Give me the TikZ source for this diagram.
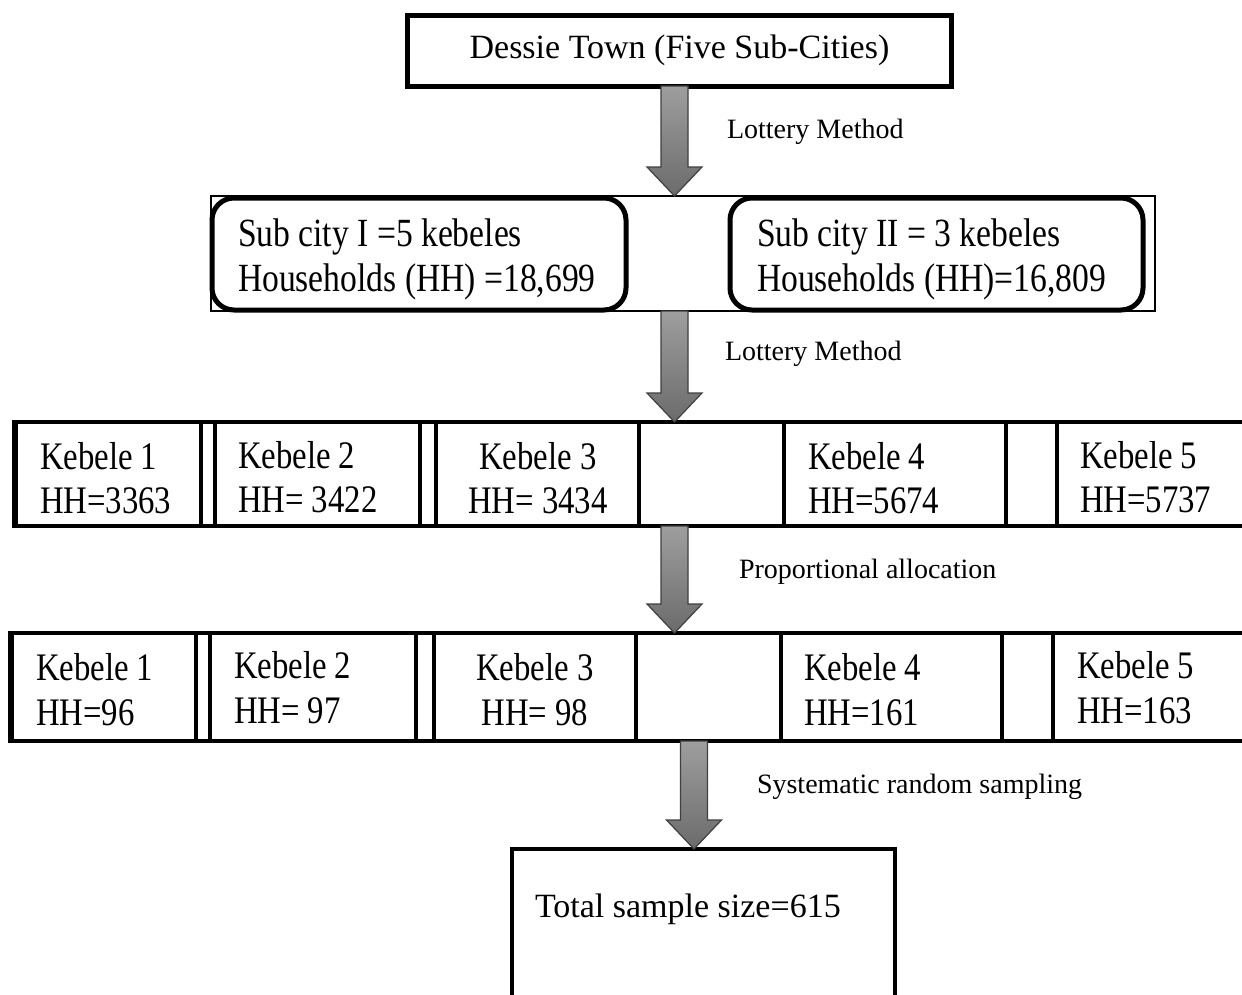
\documentclass[tikz,border=0pt]{standalone}
\usepackage{fontspec}
\setmainfont{Liberation Serif}
\newfontfamily\condfont[FakeStretch=0.84]{Liberation Serif}
\usetikzlibrary{calc,fit}
\tikzset{
  frame/.style={draw=black, line width=#1, inner sep=0pt, outer sep=0pt, fill=white},
  thinframe/.style={draw=black, line width=1.3pt, inner sep=0pt, outer sep=0pt},
  barrow/.style={draw=black!75, line width=1.2pt, top color=black!38, bottom color=black!58},
  bigtxt/.style={inner sep=0pt, outer sep=0pt, font=\fontsize{34}{40}\selectfont},
  lbltxt/.style={inner sep=0pt, outer sep=0pt, anchor=base west, font=\fontsize{28}{34}\selectfont},
  subtxt/.style={inner sep=0pt, outer sep=0pt, anchor=base west, font=\condfont\fontsize{40}{48}\selectfont},
  kbtxt/.style={inner sep=0pt, outer sep=0pt, anchor=base west, font=\condfont\fontsize{39}{46}\selectfont},
  kbctxt/.style={inner sep=0pt, outer sep=0pt, anchor=base, font=\condfont\fontsize{39}{46}\selectfont},
}
\newcommand{\blockarrow}[3]{%
  \path[barrow] let \p1=(#1 |- #2), \p2=(#1 |- #3) in
    (\x1-13.5pt,\y1) -- (\x1+13.5pt,\y1) -- (\x1+13.5pt,\y2+29pt) -- (\x1+27.5pt,\y2+29pt)
    -- (\x1,\y2) -- (\x1-27.5pt,\y2+29pt) -- (\x1-13.5pt,\y2+29pt) -- cycle;}
\begin{document}
\begin{tikzpicture}[x=1pt,y=-1pt]
\useasboundingbox (0,0) rectangle (1242,994);
\fill[white] (0,0) rectangle (1242,994);

% boxes
\node[frame=5pt, fit={(407,15)(951,86)}] (top) {};
\node[thinframe, fit={(211,196)(1155,311)}] (subouter) {};
\node[frame=5pt, rounded corners=22pt, fit={(212,198)(626,310)}] (sub1) {};
\node[frame=5pt, rounded corners=22pt, fit={(730,198)(1143,310)}] (sub2) {};

\node[frame=4pt, fit={(14,422)(1250,526)}] (row1) {};
\node[frame=4.5pt, fit={(16,422)(201,526)}] (r1k1) {};
\node[frame=4.5pt, fit={(215,422)(420,526)}] (r1k2) {};
\node[frame=4.5pt, fit={(436,422)(639,526)}] (r1k3) {};
\node[frame=4.5pt, fit={(784,422)(1006,526)}] (r1k4) {};
\node[frame=4.5pt, fit={(1057,422)(1250,526)}] (r1k5) {};

\node[frame=4pt, fit={(10,633)(1250,741)}] (row2) {};
\node[frame=4.5pt, fit={(12,633)(196,741)}] (r2k1) {};
\node[frame=4.5pt, fit={(210,633)(416,741)}] (r2k2) {};
\node[frame=4.5pt, fit={(434,633)(636,741)}] (r2k3) {};
\node[frame=4.5pt, fit={(781,633)(1002,741)}] (r2k4) {};
\node[frame=4.5pt, fit={(1053,633)(1250,741)}] (r2k5) {};

\node[frame=4.5pt, fit={(512,849)(895,1005)}] (total) {};

% arrows
\coordinate (ax) at (674.5,0);
\coordinate (bx) at (694,0);
\blockarrow{ax}{top.south}{subouter.north}
\blockarrow{ax}{subouter.south}{row1.north}
\blockarrow{ax}{row1.south}{row2.north}
\blockarrow{bx}{row2.south}{total.north}

% texts
\node[bigtxt, anchor=base] (toptxt) at (679.5,58) {Dessie Town (Five Sub-Cities)};
\node[lbltxt] (l1) at (727,138) {Lottery Method};
\node[lbltxt] (l2) at (725,360) {Lottery Method};
\node[lbltxt] (l3) at (739,578) {Proportional allocation};
\node[lbltxt] (l4) at (757,793) {Systematic random sampling};

\node[subtxt] (s1a) at (238,246) {Sub city I =5 kebeles};
\node[subtxt] (s1b) at (238,291) {Households (HH) =18,699};
\node[subtxt] (s2a) at (757,246) {Sub city II = 3 kebeles};
\node[subtxt] (s2b) at (757,291) {Households (HH)=16,809};

\node[kbtxt] (t11a) at (40,469) {Kebele 1};
\node[kbtxt] (t11b) at (40,513) {HH=3363};
\node[kbtxt] (t12a) at (238,468) {Kebele 2};
\node[kbtxt] (t12b) at (238,512) {HH= 3422};
\node[kbctxt] (t13a) at (538,469) {Kebele 3};
\node[kbctxt] (t13b) at (538,513) {HH= 3434};
\node[kbtxt] (t14a) at (808,469) {Kebele 4};
\node[kbtxt] (t14b) at (808,513) {HH=5674};
\node[kbtxt] (t15a) at (1080,468) {Kebele 5};
\node[kbtxt] (t15b) at (1080,512) {HH=5737};

\node[kbtxt] (t21a) at (36,680) {Kebele 1};
\node[kbtxt] (t21b) at (36,725) {HH=96};
\node[kbtxt] (t22a) at (234,678) {Kebele 2};
\node[kbtxt] (t22b) at (234,723) {HH= 97};
\node[kbctxt] (t23a) at (535,680) {Kebele 3};
\node[kbctxt] (t23b) at (535,725) {HH= 98};
\node[kbtxt] (t24a) at (804,680) {Kebele 4};
\node[kbtxt] (t24b) at (804,725) {HH=161};
\node[kbtxt] (t25a) at (1077,678) {Kebele 5};
\node[kbtxt] (t25b) at (1077,723) {HH=163};

\node[bigtxt, anchor=base west] (tottxt) at (535,917) {Total sample size=615};
\end{tikzpicture}
\end{document}
